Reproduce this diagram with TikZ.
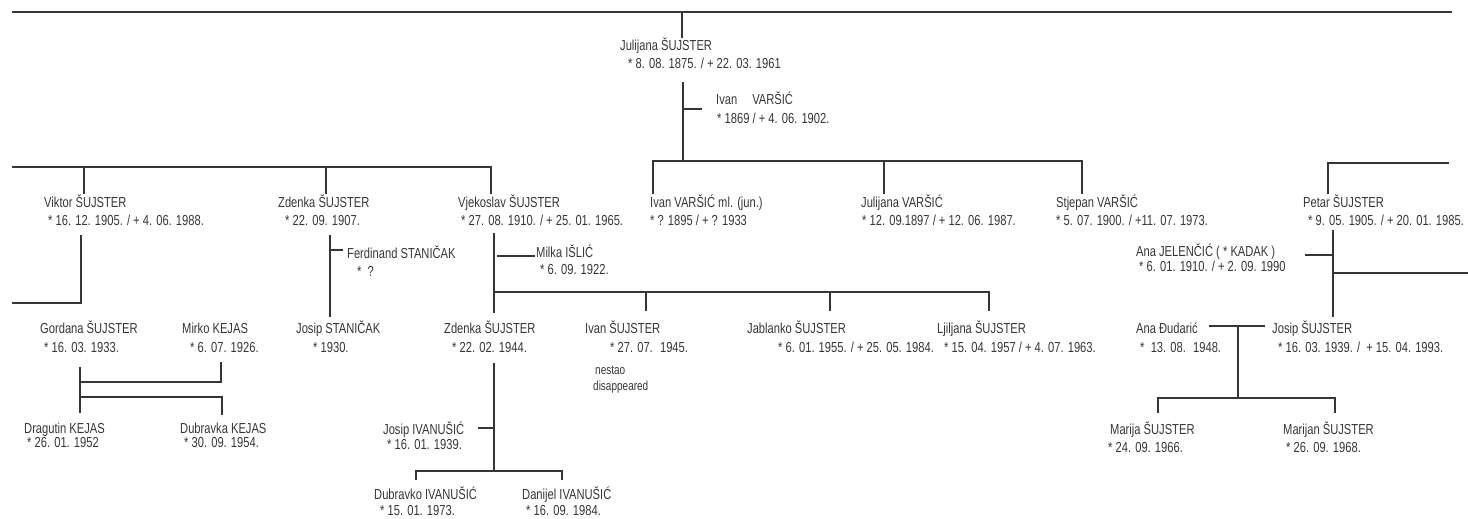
\documentclass[tikz,border=0pt]{standalone}
\usepackage{fontspec}
\setmainfont{Liberation Sans}[FakeStretch=0.77]
\definecolor{ink}{HTML}{363636}

\begin{document}
\begin{tikzpicture}[x=1pt,y=-1pt,
	link/.style={ink,line width=2.2pt},
	who/.style={anchor=base west,inner sep=0pt,text=ink,font=\fontsize{14.5}{16}\selectfont},
	note/.style={who,font=\fontsize{13}{14}\selectfont}]
\useasboundingbox (0,0) rectangle (1468,519);
% people
\node[who] (julijana) at (620,51) {Julijana ŠUJSTER};
\node[who] (julijana-d) at (628,69) {* 8. 08. 1875. / + 22. 03. 1961};
\node[who] (ivanv) at (716,105) {Ivan\hspace{15pt}VARŠIĆ};
\node[who] (ivanv-d) at (717,123) {* 1869 / + 4. 06. 1902.};
\node[who] (viktor) at (44,207) {Viktor ŠUJSTER};
\node[who] (viktor-d) at (48,225) {* 16. 12. 1905. / + 4. 06. 1988.};
\node[who] (zdenka) at (278,207) {Zdenka ŠUJSTER};
\node[who] (zdenka-d) at (285,225) {* 22. 09. 1907.};
\node[who] (vjekoslav) at (458,207) {Vjekoslav ŠUJSTER};
\node[who] (vjekoslav-d) at (461,225) {* 27. 08. 1910. / + 25. 01. 1965.};
\node[who] (ivanml) at (650,207) {Ivan VARŠIĆ ml. (jun.)};
\node[who] (ivanml-d) at (650,225) {* ? 1895 / + ? 1933};
\node[who] (julijanav) at (861,207) {Julijana VARŠIĆ};
\node[who] (julijanav-d) at (862,225) {* 12. 09.1897 / + 12. 06. 1987.};
\node[who] (stjepan) at (1056,207) {Stjepan VARŠIĆ};
\node[who] (stjepan-d) at (1056,225) {* 5. 07. 1900. / +11. 07. 1973.};
\node[who] (petar) at (1303,207) {Petar ŠUJSTER};
\node[who] (petar-d) at (1308,225) {* 9. 05. 1905. / + 20. 01. 1985.};
\node[who] (ferdinand) at (347,258) {Ferdinand STANIČAK};
\node[who] (ferdinand-d) at (357,276) {* \ ?};
\node[who] (milka) at (536,257) {Milka IŠLIĆ};
\node[who] (milka-d) at (540,274) {* 6. 09. 1922.};
\node[who] (anaj) at (1136,256) {Ana JELENČIĆ ( * KADAK )};
\node[who] (anaj-d) at (1139,271) {* 6. 01. 1910. / + 2. 09. 1990};
\node[who] (gordana) at (40,333) {Gordana ŠUJSTER};
\node[who] (gordana-d) at (44,352) {* 16. 03. 1933.};
\node[who] (mirko) at (182,333) {Mirko KEJAS};
\node[who] (mirko-d) at (190,352) {* 6. 07. 1926.};
\node[who] (josips) at (296,333) {Josip STANIČAK};
\node[who] (josips-d) at (313,352) {* 1930.};
\node[who] (zdenkai) at (444,333) {Zdenka ŠUJSTER};
\node[who] (zdenkai-d) at (452,352) {* 22. 02. 1944.};
\node[who] (ivans) at (585,333) {Ivan ŠUJSTER};
\node[who] (ivans-d) at (610,352) {* 27. 07. \ 1945.};
\node[note] (ivans-n) at (595,374) {nestao};
\node[note] (ivans-e) at (593,390) {disappeared};
\node[who] (jablanko) at (747,333) {Jablanko ŠUJSTER};
\node[who] (jablanko-d) at (778,352) {* 6. 01. 1955. / + 25. 05. 1984.};
\node[who] (ljiljana) at (937,333) {Ljiljana ŠUJSTER};
\node[who] (ljiljana-d) at (944,352) {* 15. 04. 1957 / + 4. 07. 1963.};
\node[who] (anad) at (1136,333) {Ana Đudarić};
\node[who] (anad-d) at (1140,352) {* \ 13. 08. \ 1948.};
\node[who] (josip) at (1272,333) {Josip ŠUJSTER};
\node[who] (josip-d) at (1278,352) {* 16. 03. 1939. / \ + 15. 04. 1993.};
\node[who] (dragutin) at (24,433) {Dragutin KEJAS};
\node[who] (dragutin-d) at (27,447) {* 26. 01. 1952};
\node[who] (dubravka) at (180,433) {Dubravka KEJAS};
\node[who] (dubravka-d) at (184,447) {* 30. 09. 1954.};
\node[who] (josipi) at (383,434) {Josip IVANUŠIĆ};
\node[who] (josipi-d) at (387,449) {* 16. 01. 1939.};
\node[who] (marija) at (1110,434) {Marija ŠUJSTER};
\node[who] (marija-d) at (1108,452) {* 24. 09. 1966.};
\node[who] (marijan) at (1283,434) {Marijan ŠUJSTER};
\node[who] (marijan-d) at (1286,452) {* 26. 09. 1968.};
\node[who] (dubravko) at (374,499) {Dubravko IVANUŠIĆ};
\node[who] (dubravko-d) at (380,515) {* 15. 01. 1973.};
\node[who] (danijel) at (522,499) {Danijel IVANUŠIĆ};
\node[who] (danijel-d) at (526,515) {* 16. 09. 1984.};
% lines
\coordinate (top-l) at (12,12);
\coordinate (top-r) at (1452,12);
\draw[link] (top-l) -- (top-r);
\draw[link] (682,12) -- (julijana.north -| 682,0);
\draw[link] (683,82) -- (683,161);
\draw[link] (683,109) -- (702,109);
\draw[link] (ivanml.north -| 653,0) -- (653,161) -- (1082,161) -- (stjepan.north -| 1082,0);
\draw[link] (884,161) -- (julijanav.north -| 884,0);
\draw[link] (12,167) -- (491,167) -- (vjekoslav.north -| 491,0);
\draw[link] (84,167) -- (viktor.north -| 84,0);
\draw[link] (326,167) -- (zdenka.north -| 326,0);
\draw[link] (1449,163) -- (1328,163) -- (petar.north -| 1328,0);
% Viktor
\draw[link] (81,235) -- (81,304);
\draw[link] (12,303) -- (81,303);
\draw[link] (80,367) -- (80,413);
\draw[link] (80,382) -- (221,382) -- (221,362);
\draw[link] (80,397) -- (222,397) -- (222,415);
% Zdenka
\draw[link] (330,235) -- (330,317);
\draw[link] (330,250) -- (343,250);
% Vjekoslav
\draw[link] (494,233) -- (494,313);
\draw[link] (497,256) -- (535,256);
\draw[link] (494,292) -- (989,292) -- (989,311);
\draw[link] (646,292) -- (646,311);
\draw[link] (830,292) -- (830,311);
\draw[link] (494,363) -- (494,472);
\draw[link] (478,428) -- (494,428);
\draw[link] (416,480) -- (416,471) -- (562,471) -- (562,480);
% Petar
\draw[link] (1333,230) -- (1333,317);
\draw[link] (1305,255) -- (1333,255);
\draw[link] (1333,273) -- (1468,273);
\draw[link] (1209,326) -- (1265,326);
\draw[link] (1238,326) -- (1238,398);
\draw[link] (1158,413) -- (1158,398) -- (1335,398) -- (1335,413);
\end{tikzpicture}
\end{document}
